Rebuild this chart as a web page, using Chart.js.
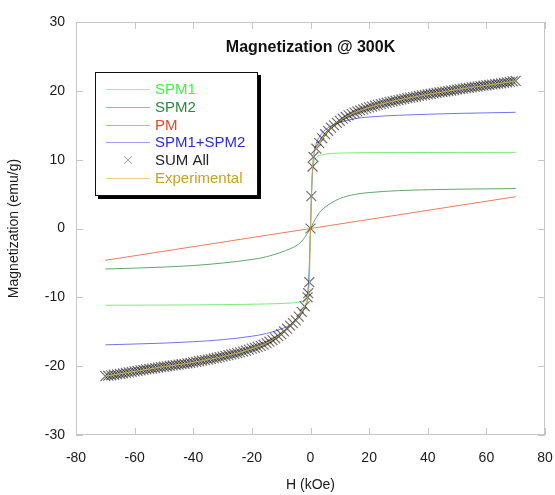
<!DOCTYPE html>
<html>
<head>
<meta charset="utf-8">
<script src="https://cdn.jsdelivr.net/npm/chart.js@4"></script>
<style>
  html, body { margin: 0; padding: 0; background: #fff; }
  #wrap { width: 555px; height: 495px; }
</style>
</head>
<body>
<div id="wrap"><canvas id="mh"></canvas></div>
<script>
'use strict';

// fitted components (H in kOe, M in emu/g)
const fitH  = [-70,-60,-50,-40,-30,-20,-15,-10,-7,-5,-3,-2,-1.5,-1,-0.5,0,0.5,1,1.5,2,3,5,7,10,15,20,30,40,50,60,70];
const spm1  = [-11.15,-11.14,-11.12,-11.1,-11.06,-11.0,-10.96,-10.9,-10.84,-10.76,-10.58,-10.35,-10.0,-9.3,-6.4,0,6.4,9.3,10.0,10.35,10.58,10.8,10.9,10.96,11.0,11.02,11.03,11.04,11.05,11.05,11.06];
const spm2  = [-5.88,-5.76,-5.6,-5.38,-5.02,-4.5,-4.1,-3.45,-2.95,-2.55,-1.85,-1.3,-1.0,-0.7,-0.35,0,0.45,0.85,1.25,1.6,2.3,3.1,3.7,4.35,4.95,5.22,5.5,5.63,5.71,5.76,5.8];
const spm12 = [-16.9,-16.78,-16.65,-16.45,-16.15,-15.65,-15.25,-14.6,-14.0,-13.3,-12.2,-11.5,-11.0,-10.2,-6.7,0,6.9,10.2,11.6,12.4,13.3,14.3,14.9,15.4,15.95,16.2,16.45,16.6,16.72,16.8,16.88];
const pmH   = [-70, 70];
const pm    = [-4.62, 4.62];

// measured sweep / total fit
const dataH = [
  -70,-69,-68,-67,-66,-65,-64,-63,-62,-61,-60,-59,-58,-57,-56,-55,-54,-53,-52,-51,
  -50,-49,-48,-47,-46,-45,-44,-43,-42,-41,-40,-39,-38,-37,-36,-35,-34,-33,-32,-31,
  -30,-29,-28,-27,-26,-25,-24,-23,-22,-21,-20,-19,-18,-17,-16,-15,-14,-13,-12,-11,
  -10,-9,-8,-7,-6,-5,-4,-3,-2,-1,-0.8,-0.4,0,0.3,0.7,
  1,2,3,4,5,6,7,8,9,10,11,12,13,14,15,16,17,18,19,20,
  21,22,23,24,25,26,27,28,29,30,31,32,33,34,35,36,37,38,39,40,
  41,42,43,44,45,46,47,48,49,50,51,52,53,54,55,56,57,58,59,60,
  61,62,63,64,65,66,67,68,69,70
];
const sumAll = [
  -21.45,-21.39,-21.32,-21.25,-21.18,-21.11,-21.04,-20.97,-20.9,-20.83,-20.76,-20.69,-20.62,-20.55,-20.48,-20.41,-20.34,-20.27,-20.2,-20.14,
  -20.08,-20.02,-19.96,-19.9,-19.84,-19.78,-19.72,-19.65,-19.58,-19.51,-19.44,-19.36,-19.28,-19.2,-19.12,-19.04,-18.96,-18.88,-18.8,-18.7,
  -18.6,-18.5,-18.4,-18.3,-18.2,-18.1,-18.0,-17.88,-17.75,-17.6,-17.45,-17.33,-17.2,-17.05,-16.88,-16.65,-16.45,-16.2,-15.95,-15.65,
  -15.35,-14.95,-14.55,-14.1,-13.75,-13.35,-12.8,-12.1,-11.3,-10.0,-9.4,-7.8,0,4.7,9.0,
  10.4,11.6,12.4,13.1,13.7,14.2,14.65,15.0,15.35,15.65,15.95,16.2,16.45,16.65,16.85,17.0,17.15,17.3,17.45,17.6,
  17.72,17.84,17.96,18.07,18.18,18.28,18.38,18.48,18.57,18.66,18.75,18.84,18.93,19.01,19.09,19.17,19.25,19.33,19.41,19.48,
  19.55,19.62,19.69,19.76,19.83,19.9,19.97,20.04,20.11,20.18,20.25,20.32,20.38,20.44,20.5,20.56,20.62,20.68,20.74,20.8,
  20.86,20.92,20.98,21.04,21.1,21.17,21.24,21.31,21.38,21.45
];
// experimental trace sits on the total fit within reading precision
const experimental = sumAll;

const xTicks = [-80,-60,-40,-20,0,20,40,60,80];
const yTicks = [-30,-20,-10,0,10,20,30];

const pts = (xs, ys) => xs.map((x, i) => ({ x, y: ys[i] }));
const FONT = '"Liberation Sans", Arial, sans-serif';

const lineSet = (label, xs, ys, color, textColor, order) => ({
  label, data: pts(xs, ys), borderColor: color, borderWidth: 1,
  pointRadius: 0, fill: false, cubicInterpolationMode: 'monotone',
  legendText: textColor, order
});

const datasets = [
  lineSet('SPM1', fitH, spm1, '#79ee79', '#3df53d', 4),
  lineSet('SPM2', fitH, spm2, '#5fa86c', '#2b8a3c', 5),
  lineSet('PM', pmH, pm, '#f07a5c', '#e4482a', 6),
  lineSet('SPM1+SPM2', fitH, spm12, '#7474ee', '#2a2ae6', 3),
  {
    label: 'SUM All', data: pts(dataH, sumAll), showLine: false,
    pointStyle: 'crossRot', pointRadius: 7, borderWidth: 1.2,
    borderColor: 'rgba(25,25,25,0.62)', pointBorderColor: 'rgba(25,25,25,0.62)',
    legendText: '#222', order: 2
  },
  lineSet('Experimental', dataH, experimental, 'rgba(214,178,60,0.85)', '#c9a21e', 1)
];

// frame with inward tick marks on all four sides
const frame = {
  id: 'frame',
  beforeDatasetsDraw(chart) {
    const { ctx, chartArea: a, scales: { x, y } } = chart;
    ctx.save();
    ctx.strokeStyle = '#c6c6c6';
    ctx.lineWidth = 1;
    ctx.strokeRect(a.left + 0.5, a.top + 0.5, a.width - 1, a.height - 1);
    ctx.beginPath();
    xTicks.forEach(v => {
      const px = Math.round(x.getPixelForValue(v)) + 0.5;
      ctx.moveTo(px, a.top); ctx.lineTo(px, a.top + 7);
      ctx.moveTo(px, a.bottom); ctx.lineTo(px, a.bottom - 7);
    });
    yTicks.forEach(v => {
      const py = Math.round(y.getPixelForValue(v)) + 0.5;
      ctx.moveTo(a.left, py); ctx.lineTo(a.left + 7, py);
      ctx.moveTo(a.right, py); ctx.lineTo(a.right - 7, py);
    });
    ctx.stroke();
    ctx.restore();
  }
};

// title inside the plot, and boxed legend with drop shadow
const overlay = {
  id: 'overlay',
  afterDraw(chart) {
    const { ctx, chartArea: a } = chart;
    ctx.save();
    ctx.fillStyle = '#111';
    ctx.font = 'bold 16px ' + FONT;
    ctx.textAlign = 'center';
    ctx.textBaseline = 'middle';
    ctx.fillText('Magnetization @ 300K', (a.left + a.right) / 2, 48);

    const bx = 95, by = 72, bw = 162, bh = 123;
    ctx.fillStyle = '#000';
    ctx.fillRect(bx + 3, by + 3, bw + 1, bh + 1);
    ctx.fillStyle = '#fff';
    ctx.fillRect(bx, by, bw, bh);
    ctx.strokeStyle = '#111';
    ctx.strokeRect(bx + 0.5, by + 0.5, bw, bh);

    ctx.font = '15px ' + FONT;
    ctx.textAlign = 'left';
    chart.data.datasets.forEach((ds, i) => {
      const ry = Math.round(89 + i * 17.8);
      if (ds.showLine === false) {
        ctx.strokeStyle = '#a8a8a8';
        ctx.beginPath();
        ctx.moveTo(124, ry - 4); ctx.lineTo(132, ry + 4);
        ctx.moveTo(132, ry - 4); ctx.lineTo(124, ry + 4);
        ctx.stroke();
      } else {
        ctx.strokeStyle = ds.borderColor;
        ctx.globalAlpha = 0.7;
        ctx.beginPath();
        ctx.moveTo(106, ry + 0.5); ctx.lineTo(150, ry + 0.5);
        ctx.stroke();
        ctx.globalAlpha = 1;
      }
      ctx.fillStyle = ds.legendText;
      ctx.fillText(ds.label, 155, ry + 1);
    });
    ctx.restore();
  }
};

new Chart(document.getElementById('mh'), {
  type: 'line',
  data: { datasets },
  plugins: [frame, overlay],
  options: {
    responsive: true, maintainAspectRatio: false, animation: false,
    layout: { padding: { left: 0, right: 10, top: 22, bottom: 0 } },
    plugins: { legend: { display: false }, tooltip: { enabled: false } },
    scales: {
      x: {
        type: 'linear', min: -80, max: 80,
        afterBuildTicks: s => { s.ticks = xTicks.map(v => ({ value: v })); },
        afterFit: s => { s.height = 60; s.paddingLeft = 0; s.paddingRight = 0; },
        border: { display: false },
        grid: { display: false, drawTicks: false },
        ticks: { color: '#1a1a1a', padding: 15, maxRotation: 0, font: { family: FONT, size: 14 } },
        title: { display: true, text: 'H (kOe)', color: '#1a1a1a', padding: { top: 0, bottom: 1 }, font: { family: FONT, size: 14 } }
      },
      y: {
        type: 'linear', min: -30, max: 30,
        afterBuildTicks: s => { s.ticks = yTicks.map(v => ({ value: v })); },
        afterFit: s => { s.width = 76; s.paddingTop = 0; s.paddingBottom = 0; },
        border: { display: false },
        grid: { display: false, drawTicks: false },
        ticks: { color: '#1a1a1a', padding: 11, font: { family: FONT, size: 14 } },
        title: { display: true, text: 'Magnetization (emu/g)', color: '#1a1a1a', padding: { top: 6, bottom: 0 }, font: { family: FONT, size: 14 } }
      }
    }
  }
});
</script>
</body>
</html>
